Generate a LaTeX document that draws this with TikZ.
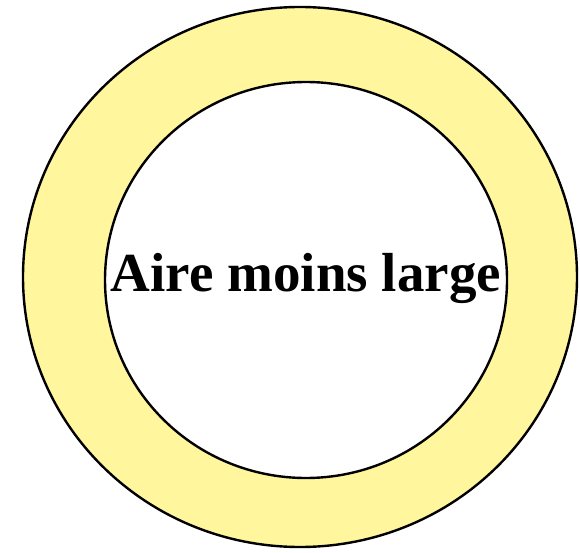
\documentclass[tikz,border=0pt]{standalone}
\usepackage{fontspec}
\setmainfont{Liberation Serif}
\definecolor{ringyellow}{RGB}{255,246,158}
\tikzset{
  ring/.style={draw=black, line width=2.4pt, fill=ringyellow},
  hole/.style={draw=black, line width=2.4pt, fill=white},
  areatext/.style={align=center, anchor=base, inner sep=0pt, font=\bfseries\fontsize{55}{60}\selectfont}
}
\begin{document}
\begin{tikzpicture}[x=1pt, y=-1pt]
  % Frame
  \useasboundingbox (0,0) rectangle (580,553);

  % Outer ring (yellow)
  \draw[ring] (300,277) ellipse (277 and 270);

  % Inner area
  \draw[hole] (306,280) ellipse (201 and 198);

  % Label
  \node[areatext] (aire) at (306,291) {Aire moins large};
\end{tikzpicture}
\end{document}
